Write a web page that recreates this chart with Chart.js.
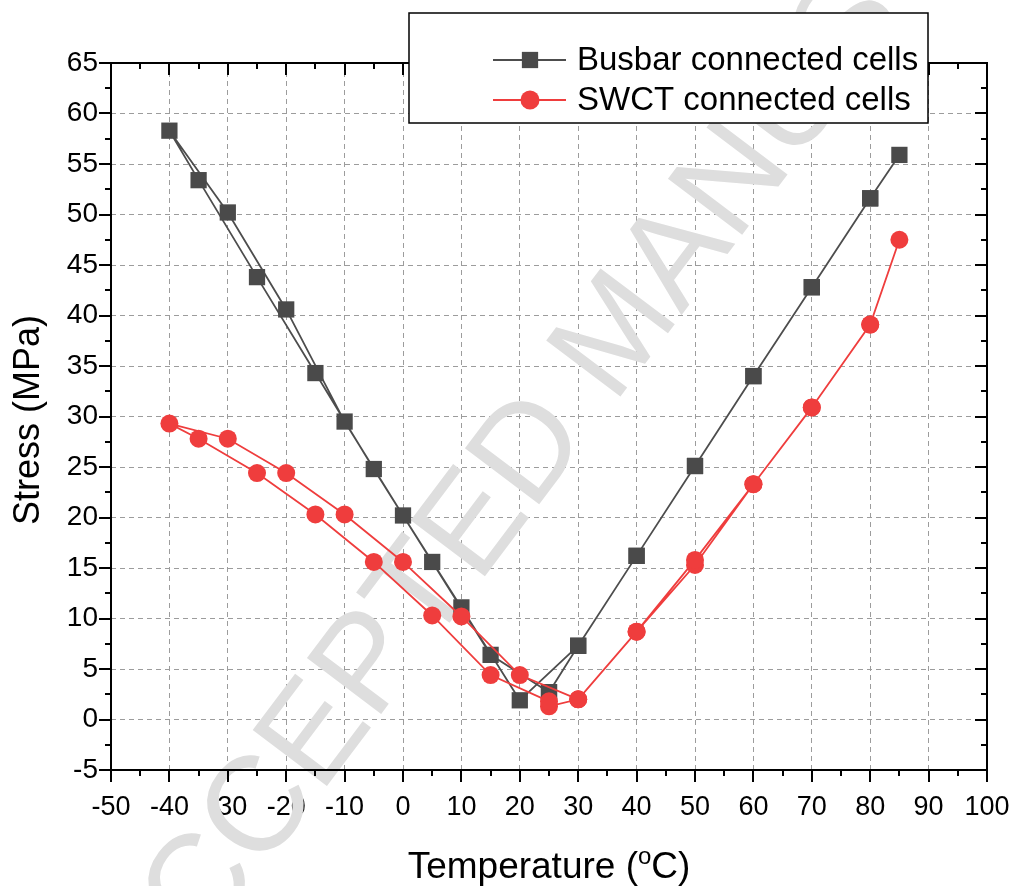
<!DOCTYPE html>
<html>
<head>
<meta charset="utf-8">
<script src="https://cdn.jsdelivr.net/npm/chart.js@4.4.0/dist/chart.umd.min.js"></script>
<style>
    html, body { margin: 0; padding: 0; background: #fff; }
    #wrap { width: 1015px; height: 886px; }
</style>
</head>
<body>
<div id="wrap"><canvas id="stressChart" width="1015" height="886"></canvas></div>
<script>
// Thermal cycle: 25 -> 85 -> -40 -> 25
const busbarTemp   = [25, 30, 40, 50, 60, 70, 80, 85, 80, 70, 60, 50, 40, 30, 20, 10, 0, -10, -20, -30, -40, -35, -25, -15, -5, 5, 15, 25];
const busbarStress = [2.7, 7.3, 16.2, 25.1, 34.0, 42.8, 51.6, 55.9, 51.6, 42.8, 34.0, 25.1, 16.2, 7.3, 1.9, 11.1, 20.2, 29.5, 40.6, 50.2, 58.3, 53.4, 43.8, 34.3, 24.8, 15.6, 6.4, 2.7];

const swctTemp   = [25, 30, 40, 50, 60, 70, 80, 85, 80, 70, 60, 50, 40, 30, 20, 10, 0, -10, -20, -30, -40, -35, -25, -15, -5, 5, 15, 25];
const swctStress = [1.3, 2.0, 8.7, 15.3, 23.3, 30.9, 39.1, 47.5, 39.1, 30.9, 23.3, 15.8, 8.7, 2.0, 4.4, 10.2, 15.6, 20.3, 24.4, 27.8, 29.3, 27.8, 24.4, 20.3, 15.6, 10.3, 4.4, 1.8];

// Axis ticks
const xTickValues = [-50, -40, -30, -20, -10, 0, 10, 20, 30, 40, 50, 60, 70, 80, 90, 100];
const yTickValues = [-5, 0, 5, 10, 15, 20, 25, 30, 35, 40, 45, 50, 55, 60, 65];

const seriesLabels = ['Busbar connected cells', 'SWCT connected cells'];
const FONT = '"Liberation Sans", Arial, sans-serif';

function toPoints(xs, ys) {
    return xs.map((x, i) => ({ x: x, y: ys[i] }));
}

// Midpoints between major ticks
function minorValues(vals) {
    const out = [];
    for (let i = 0; i < vals.length - 1; i++) out.push((vals[i] + vals[i + 1]) / 2);
    return out;
}

// Watermark behind the data
const watermarkPlugin = {
    id: 'watermark',
    beforeDatasetsDraw(chart) {
        const ctx = chart.ctx;
        ctx.save();
        ctx.translate(620, 335);
        ctx.rotate(-53 * Math.PI / 180);
        ctx.font = '135px ' + FONT;
        ctx.fillStyle = '#dedede';
        ctx.textAlign = 'center';
        ctx.textBaseline = 'middle';
        ctx.fillText('ACCEPTED MANUSCRIPT', 0, 0);
        ctx.restore();
    }
};

// Frame, major/minor ticks and axis titles
const framePlugin = {
    id: 'frame',
    afterDatasetsDraw(chart) {
        const ctx = chart.ctx;
        const a = chart.chartArea;
        const xs = chart.scales.x, ys = chart.scales.y;
        const majorLen = 12, minorLen = 6;

        ctx.save();
        ctx.strokeStyle = '#000';
        ctx.lineWidth = 2;
        ctx.strokeRect(a.left, a.top, a.right - a.left, a.bottom - a.top);

        ctx.beginPath();
        const xTicks = xTickValues.map(v => [v, majorLen]).concat(minorValues(xTickValues).map(v => [v, minorLen]));
        xTicks.forEach(([v, len]) => {
            const px = Math.round(xs.getPixelForValue(v));
            ctx.moveTo(px, a.bottom); ctx.lineTo(px, a.bottom + len);
            ctx.moveTo(px, a.top); ctx.lineTo(px, a.top + len);
        });
        const yTicks = yTickValues.map(v => [v, majorLen]).concat(minorValues(yTickValues).map(v => [v, minorLen]));
        yTicks.forEach(([v, len]) => {
            const py = Math.round(ys.getPixelForValue(v));
            ctx.moveTo(a.left, py); ctx.lineTo(a.left - len, py);
            ctx.moveTo(a.right, py); ctx.lineTo(a.right - len, py);
        });
        ctx.stroke();

        // y title
        ctx.fillStyle = '#000';
        ctx.save();
        ctx.translate(29, 420);
        ctx.rotate(-Math.PI / 2);
        ctx.font = '36px ' + FONT;
        ctx.textAlign = 'center';
        ctx.textBaseline = 'middle';
        ctx.fillText('Stress (MPa)', 0, 0);
        ctx.restore();

        // x title with superscript o
        const parts = [['Temperature (', 37, 0], ['o', 24, -14], ['C)', 37, 0]];
        let total = 0;
        parts.forEach(p => { ctx.font = p[1] + 'px ' + FONT; total += ctx.measureText(p[0]).width; });
        let cx = (a.left + a.right) / 2 - total / 2;
        ctx.textAlign = 'left';
        ctx.textBaseline = 'alphabetic';
        parts.forEach(p => {
            ctx.font = p[1] + 'px ' + FONT;
            ctx.fillText(p[0], cx, 878 + p[2]);
            cx += ctx.measureText(p[0]).width;
        });
        ctx.restore();
    }
};

// Boxed legend overlapping the top edge
const legendPlugin = {
    id: 'boxLegend',
    afterDraw(chart) {
        const ctx = chart.ctx;
        const box = { x: 409, y: 13, w: 519, h: 110 };
        ctx.save();
        ctx.fillStyle = '#fff';
        ctx.fillRect(box.x, box.y, box.w, box.h);
        ctx.strokeStyle = '#000';
        ctx.lineWidth = 1.5;
        ctx.strokeRect(box.x, box.y, box.w, box.h);

        const rows = [60, 100];
        chart.data.datasets.forEach((ds, i) => {
            const y = rows[i];
            ctx.strokeStyle = ds.borderColor;
            ctx.lineWidth = ds.borderWidth;
            ctx.beginPath();
            ctx.moveTo(493, y); ctx.lineTo(566, y);
            ctx.stroke();
            ctx.fillStyle = ds.pointBackgroundColor;
            Chart.helpers.drawPoint(ctx, {
                pointStyle: ds.pointStyle,
                radius: ds.pointStyle === 'rect' ? 11.5 : 9.5,
                rotation: 0,
                borderWidth: 0
            }, 530, y);
            ctx.fillStyle = '#000';
            ctx.font = '33px ' + FONT;
            ctx.textAlign = 'left';
            ctx.textBaseline = 'middle';
            ctx.fillText(ds.label, 577, y + 1);
        });
        ctx.restore();
    }
};

const ctx = document.getElementById('stressChart').getContext('2d');
const chart = new Chart(ctx, {
    type: 'scatter',
    data: {
        datasets: [{
            label: seriesLabels[0],
            data: toPoints(busbarTemp, busbarStress),
            showLine: true,
            borderColor: '#4d4d4d',
            borderWidth: 1.8,
            pointStyle: 'rect',
            pointRadius: 11.5,
            pointBackgroundColor: '#4a4a4a',
            pointBorderWidth: 0,
            tension: 0,
            order: 2
        }, {
            label: seriesLabels[1],
            data: toPoints(swctTemp, swctStress),
            showLine: true,
            borderColor: '#ef3d3d',
            borderWidth: 1.8,
            pointStyle: 'circle',
            pointRadius: 9,
            pointBackgroundColor: '#ef3d3d',
            pointBorderWidth: 0,
            tension: 0,
            order: 1
        }]
    },
    options: {
        responsive: false,
        animation: false,
        devicePixelRatio: 1,
        layout: { padding: { top: 63, right: 28, bottom: 0, left: 0 } },
        plugins: {
            legend: { display: false },
            tooltip: { enabled: false }
        },
        scales: {
            x: {
                type: 'linear',
                min: -50,
                max: 100,
                afterBuildTicks: s => { s.ticks = xTickValues.map(v => ({ value: v })); },
                afterFit: s => { s.height = 116; s.paddingLeft = 0; s.paddingRight = 0; },
                grid: { color: '#9c9c9c', lineWidth: 1, drawTicks: false },
                border: { display: false, dash: [5, 4] },
                ticks: { color: '#000', font: { family: FONT, size: 27 }, padding: 21, maxRotation: 0, autoSkip: false }
            },
            y: {
                type: 'linear',
                min: -5,
                max: 65,
                afterBuildTicks: s => { s.ticks = yTickValues.map(v => ({ value: v })); },
                afterFit: s => { s.width = 111; s.paddingTop = 0; s.paddingBottom = 0; },
                grid: { color: '#9c9c9c', lineWidth: 1, drawTicks: false },
                border: { display: false, dash: [5, 4] },
                ticks: { color: '#000', font: { family: FONT, size: 28 }, padding: 13, autoSkip: false }
            }
        }
    },
    plugins: [watermarkPlugin, framePlugin, legendPlugin]
});
</script>
</body>
</html>
